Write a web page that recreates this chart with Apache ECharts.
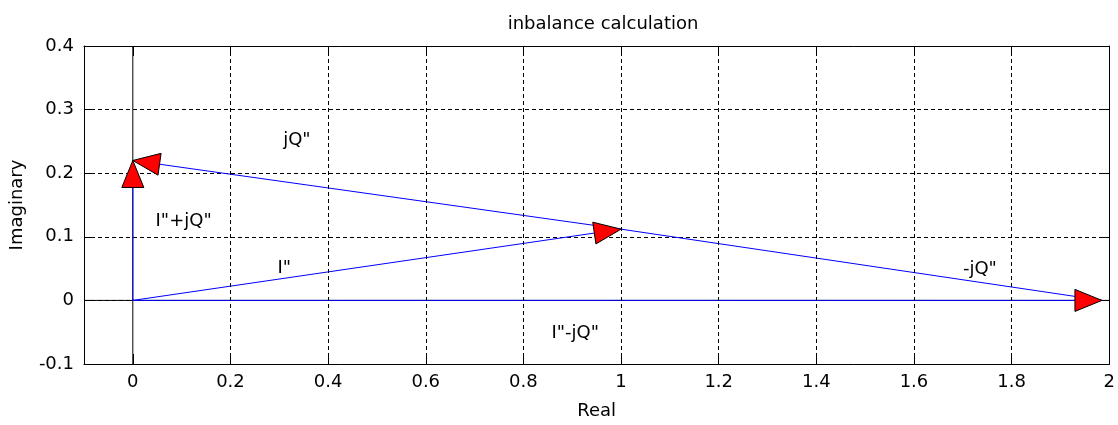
<!DOCTYPE html>
<html>
<head>
<meta charset="utf-8">
<script src="https://cdn.jsdelivr.net/npm/echarts@6/dist/echarts.min.js"></script>
<style>html,body{margin:0;padding:0;background:#fff}#c{width:1118px;height:425px}</style>
</head>
<body>
<div id="c"></div>
<script>
// ---- data ----
const titleText = 'inbalance calculation';
const xName = 'Real';
const yName = 'Imaginary';
const xTicks = [0, 0.2, 0.4, 0.6, 0.8, 1, 1.2, 1.4, 1.6, 1.8, 2];
const xGridLines = [0.2, 0.4, 0.6, 0.8, 1, 1.2, 1.4, 1.6, 1.8, 2];
// vectors: start (x0,y0) -> end (x1,y1); head = 1 draws an arrowhead
const vecNames = ['I"+jQ"', 'jQ"', 'I"', 'I"-jQ"', '-jQ"'];
const vecX0 = [0, 1, 0, 0, 1];
const vecY0 = [0, 0.112, 0, 0, 0.112];
const vecX1 = [0, 0, 1, 1.985, 1.985];
const vecY1 = [0.22, 0.22, 0.112, 0, 0];
const vecHead = [1, 1, 1, 1, 0];
// text labels
const labelText = ['jQ"', 'I"+jQ"', 'I"', '-jQ"', 'I"-jQ"'];
const labelX = [0.336, 0.104, 0.31, 1.735, 0.906];
const labelY = [0.252, 0.125, 0.05, 0.049, -0.051];
// reference axes lines
const zeroVLine = [[0, -0.1], [0, 0.4]];
const zeroHLine = [[-0.1, 0], [2, 0]];

const FONT = 'DejaVu Sans';
const FS = 18;
const chart = echarts.init(document.getElementById('c'), null, {renderer: 'canvas'});

const series = [];
series.push({type: 'line', data: zeroVLine, symbol: 'none', lineStyle: {color: '#000', width: 1}, silent: true, z: 2});
series.push({type: 'line', data: zeroHLine, symbol: 'none', lineStyle: {color: '#000', width: 1}, silent: true, z: 2,
  markLine: {silent: true, symbol: 'none', label: {show: false},
    lineStyle: {color: '#000', width: 1, type: [4, 3]},
    data: xGridLines.map(v => ({xAxis: v}))}});
vecNames.forEach((n, i) => {
  series.push({type: 'line', name: n, data: [[vecX0[i], vecY0[i]], [vecX1[i], vecY1[i]]],
    symbol: 'none', lineStyle: {color: '#0000ff', width: 1}, silent: true, z: 3});
});
series.push({
  type: 'custom', z: 5, silent: true,
  data: vecNames.map((n, i) => [vecX0[i], vecY0[i], vecX1[i], vecY1[i]]).filter((d, i) => vecHead[i]),
  encode: {x: [0, 2], y: [1, 3]},
  clip: false,
  renderItem: function (params, api) {
    const p0 = api.coord([api.value(0), api.value(1)]);
    const p1 = api.coord([api.value(2), api.value(3)]);
    const dx = p1[0] - p0[0], dy = p1[1] - p0[1];
    const len = Math.hypot(dx, dy);
    const ux = dx / len, uy = dy / len;
    const L = 27, W = 11;
    const bx = p1[0] - ux * L, by = p1[1] - uy * L;
    return {
      type: 'polygon',
      shape: {points: [p1, [bx - uy * W, by + ux * W], [bx + uy * W, by - ux * W]]},
      style: {fill: '#ff0000', stroke: '#000', lineWidth: 1}
    };
  }
});
series.push({
  type: 'custom', z: 6, silent: true, clip: false,
  data: labelText.map((t, i) => [labelX[i], labelY[i], i]),
  encode: {x: 0, y: 1},
  renderItem: function (params, api) {
    const p = api.coord([api.value(0), api.value(1)]);
    return {
      type: 'text', x: p[0], y: p[1],
      style: {text: labelText[api.value(2)], fill: '#000', fontFamily: FONT, fontSize: FS,
        align: 'center', verticalAlign: 'middle'}
    };
  }
});

const axisTextStyle = {color: '#000', fontFamily: FONT, fontSize: FS};
const tickStyle = {show: true, inside: true, length: 10, lineStyle: {color: '#000', width: 1}};
chart.setOption({
  animation: false,
  backgroundColor: '#fff',
  title: {text: titleText, left: 598, top: 10, textAlign: 'center',
    textStyle: {color: '#000', fontFamily: FONT, fontSize: FS, fontWeight: 'normal'}},
  grid: {left: 83, right: 5, top: 46, bottom: 58, containLabel: false},
  xAxis: [{
    type: 'value', min: -0.1, max: 2, position: 'bottom',
    name: xName, nameLocation: 'middle', nameGap: 38, nameTextStyle: axisTextStyle,
    axisLine: {show: true, onZero: false, lineStyle: {color: '#000', width: 1}},
    axisTick: {...tickStyle, customValues: xTicks},
    axisLabel: {show: true, customValues: xTicks, margin: 9, ...axisTextStyle},
    splitLine: {show: false}
  }, {
    type: 'value', min: -0.1, max: 2, position: 'top',
    axisLine: {show: true, onZero: false, lineStyle: {color: '#000', width: 1}},
    axisTick: {...tickStyle, customValues: xTicks},
    axisLabel: {show: false},
    splitLine: {show: false}
  }],
  yAxis: [{
    type: 'value', min: -0.1, max: 0.4, interval: 0.1, position: 'left',
    name: yName, nameLocation: 'middle', nameGap: 58, nameTextStyle: axisTextStyle,
    axisLine: {show: true, onZero: false, lineStyle: {color: '#000', width: 1}},
    axisTick: tickStyle,
    axisLabel: {show: true, margin: 10, ...axisTextStyle},
    splitLine: {show: true, lineStyle: {color: '#000', width: 1, type: [4, 3]}}
  }, {
    type: 'value', min: -0.1, max: 0.4, interval: 0.1, position: 'right',
    axisLine: {show: true, onZero: false, lineStyle: {color: '#000', width: 1}},
    axisTick: tickStyle,
    axisLabel: {show: false},
    splitLine: {show: false}
  }],
  series: series
});
</script>
</body>
</html>
